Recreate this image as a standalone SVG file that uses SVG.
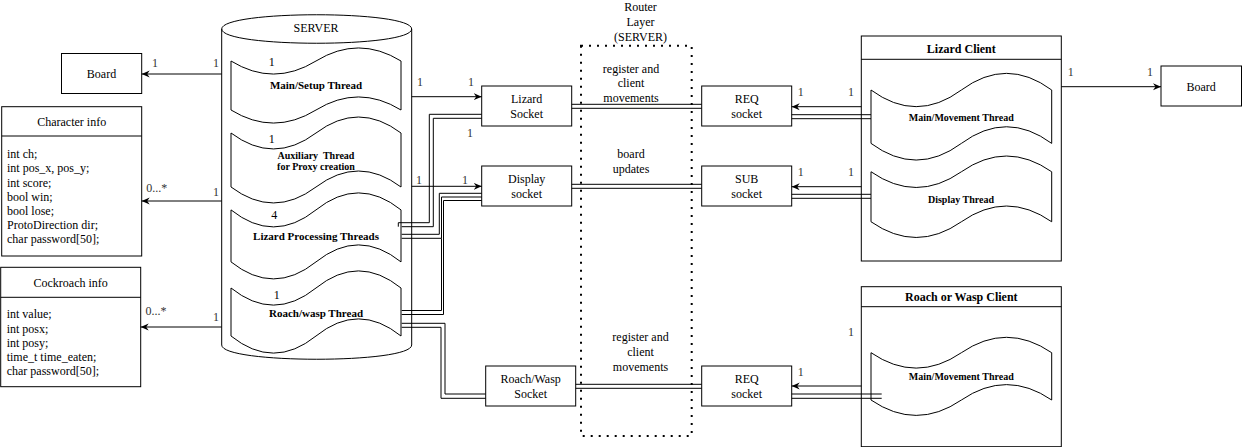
<svg xmlns="http://www.w3.org/2000/svg" width="1242" height="447" viewBox="0 0 1242 447">
  <style>
    .box { fill: #fff; stroke: #000; stroke-width: 1; }
    .shape { fill: #fff; stroke: #000; stroke-width: 1; }
    .t { font-family: "Liberation Serif", "Times New Roman", serif; font-size: 12px; fill: #000; text-anchor: middle; dominant-baseline: central; }
    .tl { font-family: "Liberation Serif", "Times New Roman", serif; font-size: 12px; fill: #000; text-anchor: start; dominant-baseline: central; }
    .b { font-weight: bold; }
    .s11 { font-size: 11px; }
    .s10 { font-size: 10px; }
    .lbl { font-family: "Liberation Serif", "Times New Roman", serif; font-size: 12px; fill: #333; text-anchor: middle; dominant-baseline: central; }
    .edge { fill: none; stroke: #000; stroke-width: 1; }
    .arrow { marker-end: url(#arrowhead); }
    .dots { fill: none; stroke: #000; stroke-width: 2; stroke-dasharray: 2 6; }
  </style>
  <defs>
    <marker id="arrowhead" markerUnits="userSpaceOnUse" markerWidth="10" markerHeight="8" refX="8" refY="4" orient="auto" viewBox="0 0 10 8">
      <path d="M0,0.5 L8,4 L0,7.5 L2.5,4 Z" fill="#000"/>
    </marker>
  </defs>

  <rect width="1242" height="447" fill="#fff"/>

  <!-- Router layer (dotted region) -->
  <g id="router-layer">
    <rect class="dots" x="581" y="45.7" width="110.7" height="390.3"/>
    <text class="t" x="640.5" y="7">Router</text>
    <text class="t" x="640.5" y="22">Layer</text>
    <text class="t" x="640.5" y="36.5">(SERVER)</text>
    <text class="t" x="631" y="68.5">register and</text>
    <text class="t" x="631" y="83.3">client</text>
    <text class="t" x="631" y="97.5">movements</text>
    <text class="t" x="631" y="154">board</text>
    <text class="t" x="631" y="169">updates</text>
    <text class="t" x="640.5" y="337">register and</text>
    <text class="t" x="640.5" y="352">client</text>
    <text class="t" x="640.5" y="366.5">movements</text>
  </g>

  <!-- Server cylinder with its threads -->
  <g id="server">
    <path class="shape" d="M221.7,29 C221.7,10 411.7,10 411.7,29 L411.7,345 C411.7,364 221.7,364 221.7,345 Z"/>
    <path class="edge" d="M221.7,29 C221.7,48 411.7,48 411.7,29"/>
    <text class="t" x="316" y="28">SERVER</text>

    <g id="main-setup-thread">
      <path class="shape" d="M231,61 Q273.5,87.1 316,61 Q358.5,34.9 401,61 L401,110 Q358.5,83.9 316,110 Q273.5,136.1 231,110 Z"/>
      <text class="t" x="271.7" y="62">1</text>
      <text class="t b s11" x="316" y="85">Main/Setup Thread</text>
    </g>
    <g id="auxiliary-thread">
      <path class="shape" d="M231,133 Q273.5,164.9 316,133 Q358.5,101 401,133 L401,187 Q358.5,155 316,187 Q273.5,218.9 231,187 Z"/>
      <text class="t" x="271.7" y="139.3">1</text>
      <text class="t b s10" x="316" y="155" xml:space="preserve" style="white-space:pre">Auxiliary  Thread</text>
      <text class="t b s10" x="316" y="166.5">for Proxy creation</text>
    </g>
    <g id="lizard-processing-threads">
      <path class="shape" d="M231,209.9 Q273.5,243.9 316,209.9 Q358.5,175.9 401,209.9 L401,261.9 Q358.5,227.9 316,261.9 Q273.5,295.9 231,261.9 Z"/>
      <text class="t" x="274.3" y="215">4</text>
      <text class="t b s11" x="316" y="236">Lizard Processing Threads</text>
    </g>
    <g id="roach-wasp-thread">
      <path class="shape" d="M231,288 Q273.5,322.2 316,288 Q358.5,253.8 401,288 L401,336 Q358.5,301.8 316,336 Q273.5,370.2 231,336 Z"/>
      <text class="t" x="276.7" y="295">1</text>
      <text class="t b s11" x="316" y="312.7">Roach/wasp Thread</text>
    </g>
  </g>

  <!-- Left side data structures -->
  <g id="board-left">
    <rect class="box" x="61.5" y="53.5" width="80.2" height="40"/>
    <text class="t" x="101.5" y="73.5">Board</text>
  </g>

  <g id="character-info">
    <rect class="box" x="1.7" y="106.7" width="140" height="149.3"/>
    <line class="edge" x1="1.7" y1="136" x2="141.7" y2="136"/>
    <text class="t" x="71.7" y="121.5">Character info</text>
    <text class="tl" x="7" y="154">int ch;</text>
    <text class="tl" x="7" y="168.3">int pos_x, pos_y;</text>
    <text class="tl" x="7" y="182.5">int score;</text>
    <text class="tl" x="7" y="196.7">bool win;</text>
    <text class="tl" x="7" y="210.8">bool lose;</text>
    <text class="tl" x="7" y="225">ProtoDirection dir;</text>
    <text class="tl" x="7" y="239.3">char password[50];</text>
  </g>

  <g id="cockroach-info">
    <rect class="box" x="0.7" y="267.3" width="140" height="119.4"/>
    <line class="edge" x1="0.7" y1="297.3" x2="140.7" y2="297.3"/>
    <text class="t" x="70.7" y="282.5">Cockroach info</text>
    <text class="tl" x="6.7" y="314.3">int value;</text>
    <text class="tl" x="6.7" y="328.7">int posx;</text>
    <text class="tl" x="6.7" y="343">int posy;</text>
    <text class="tl" x="6.7" y="357.2">time_t time_eaten;</text>
    <text class="tl" x="6.7" y="371.4">char password[50];</text>
  </g>

  <!-- Server sockets -->
  <g id="lizard-socket">
    <rect class="box" x="481.7" y="86" width="90" height="40"/>
    <text class="t" x="526.7" y="99">Lizard</text>
    <text class="t" x="526.7" y="114">Socket</text>
  </g>
  <g id="display-socket">
    <rect class="box" x="481.7" y="166" width="90" height="40"/>
    <text class="t" x="526.7" y="179">Display</text>
    <text class="t" x="526.7" y="194">socket</text>
  </g>
  <g id="roach-wasp-socket">
    <rect class="box" x="485.7" y="366" width="90" height="40"/>
    <text class="t" x="530.7" y="379">Roach/Wasp</text>
    <text class="t" x="530.7" y="394">Socket</text>
  </g>

  <!-- Client sockets -->
  <g id="req-socket-lizard">
    <rect class="box" x="701.7" y="86" width="90" height="40"/>
    <text class="t" x="746.7" y="99">REQ</text>
    <text class="t" x="746.7" y="114">socket</text>
  </g>
  <g id="sub-socket">
    <rect class="box" x="701.7" y="166" width="90" height="40"/>
    <text class="t" x="746.7" y="179">SUB</text>
    <text class="t" x="746.7" y="194">socket</text>
  </g>
  <g id="req-socket-roach">
    <rect class="box" x="701.7" y="366" width="90" height="40"/>
    <text class="t" x="746.7" y="379">REQ</text>
    <text class="t" x="746.7" y="394">socket</text>
  </g>

  <!-- Lizard client -->
  <g id="lizard-client">
    <rect class="box" x="861.3" y="36" width="200" height="225"/>
    <line class="edge" x1="861.3" y1="59.3" x2="1061.3" y2="59.3"/>
    <text class="t b" x="961.3" y="48.5">Lizard Client</text>
    <g id="lizard-main-thread">
      <path class="shape" d="M871,90 Q916.2,123.3 961.4,90 Q1006.5,56.7 1051.7,90 L1051.7,143.4 Q1006.5,110.1 961.4,143.4 Q916.2,176.7 871,143.4 Z"/>
      <text class="t b s10" x="961.3" y="117">Main/Movement Thread</text>
    </g>
    <g id="lizard-display-thread">
      <path class="shape" d="M871,171.75 Q916.2,203.2 961.4,171.75 Q1006.5,140.3 1051.7,171.75 L1051.7,221.75 Q1006.5,190.3 961.4,221.75 Q916.2,253.2 871,221.75 Z"/>
      <text class="t b s10" x="961" y="199">Display Thread</text>
    </g>
  </g>

  <!-- Roach or wasp client -->
  <g id="roach-client">
    <rect class="box" x="861.3" y="286.7" width="200" height="160"/>
    <line class="edge" x1="861.3" y1="306.7" x2="1061.3" y2="306.7"/>
    <text class="t b" x="961.3" y="296.5">Roach or Wasp Client</text>
    <g id="roach-main-thread">
      <path class="shape" d="M871,352.7 Q916.2,383.5 961.4,352.7 Q1006.5,321.9 1051.7,352.7 L1051.7,400 Q1006.5,369.2 961.4,400 Q916.2,430.8 871,400 Z"/>
      <text class="t b s10" x="961.3" y="376">Main/Movement Thread</text>
    </g>
  </g>

  <g id="board-right">
    <rect class="box" x="1161" y="66" width="80.5" height="40"/>
    <text class="t" x="1201.2" y="86.5">Board</text>
  </g>

  <!-- Connectors -->
  <g id="connectors">
    <!-- association arrows -->
    <path class="edge arrow" d="M221.7,74 H141.7"/>
    <path class="edge arrow" d="M221.7,201 H141.7"/>
    <path class="edge arrow" d="M221.7,327 H140.7"/>
    <path class="edge arrow" d="M411.7,96.7 H481.7"/>
    <path class="edge arrow" d="M411.7,186.3 H481.7"/>
    <path class="edge arrow" d="M861.3,106.7 H791.7"/>
    <path class="edge arrow" d="M861.3,186.7 H791.7"/>
    <path class="edge arrow" d="M861.3,386 H791.7"/>
    <path class="edge arrow" d="M1061.3,86.7 H1161"/>

    <!-- double links: sockets across the router -->
    <path class="edge" d="M571.7,104.3 H701.7 M571.7,108.3 H701.7"/>
    <path class="edge" d="M571.7,184.3 H701.7 M571.7,188.3 H701.7"/>
    <path class="edge" d="M575.7,384.3 H701.7 M575.7,388.3 H701.7"/>

    <!-- double links: client sockets to client threads -->
    <path class="edge" d="M791.7,114.7 H871 M791.7,118.7 H871"/>
    <path class="edge" d="M791.7,194.3 H871 M791.7,198.3 H871"/>
    <path class="edge" d="M791.7,394 H881.7 M791.7,398.3 H881.7"/>

    <!-- double links: server sockets to server threads -->
    <path class="edge" d="M481.7,114.3 H429.3 V222.7 H398.3 V226.7 M481.7,118.3 H433.3 V226.7 H401.7"/>
    <path class="edge" d="M481.7,193.3 H439.3 V234.3 H401.7 M481.7,197 H441.5 V238.3 H401.7"/>
    <path class="edge" d="M441.5,238.3 V310.5 H401.7 M481.7,200.5 H443.5 V314.5 H401.7"/>
    <path class="edge" d="M401.7,323.3 H445 V394 H485.7 M401.7,327.3 H441 V398.3 H485.7"/>

    <!-- multiplicity labels -->
    <text class="lbl" x="155" y="63">1</text>
    <text class="lbl" x="216" y="63">1</text>
    <text class="lbl" x="156.7" y="187.7">0...*</text>
    <text class="lbl" x="216" y="192.3">1</text>
    <text class="lbl" x="156" y="310.7">0...*</text>
    <text class="lbl" x="216" y="316.7">1</text>
    <text class="lbl" x="420" y="82">1</text>
    <text class="lbl" x="471" y="82">1</text>
    <text class="lbl" x="470" y="133">1</text>
    <text class="lbl" x="419" y="180">1</text>
    <text class="lbl" x="465" y="180">1</text>
    <text class="lbl" x="800.7" y="91.7">1</text>
    <text class="lbl" x="851" y="91.7">1</text>
    <text class="lbl" x="800.7" y="171.7">1</text>
    <text class="lbl" x="851" y="171.7">1</text>
    <text class="lbl" x="800.7" y="371.7">1</text>
    <text class="lbl" x="851" y="331.7">1</text>
    <text class="lbl" x="1070.7" y="71.7">1</text>
    <text class="lbl" x="1150" y="71.7">1</text>
  </g>
</svg>
